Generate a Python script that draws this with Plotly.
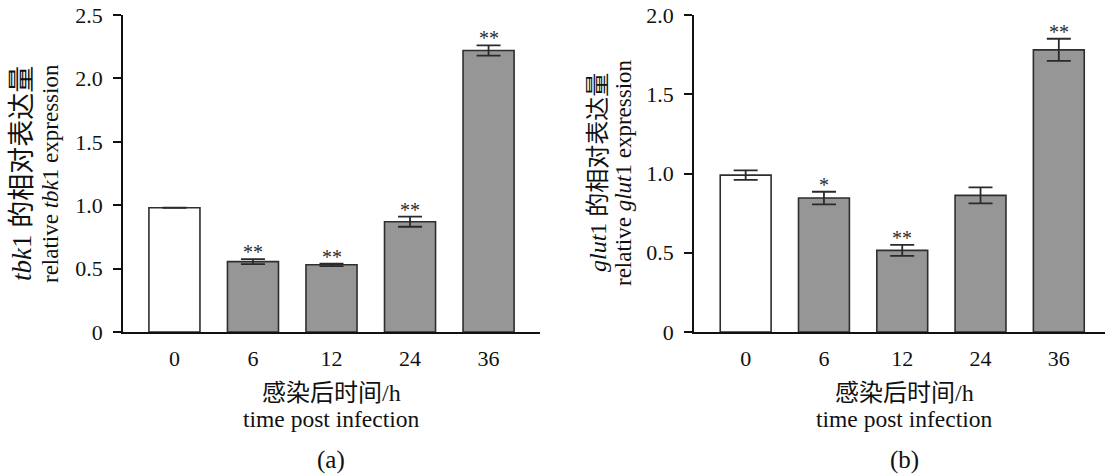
import plotly.graph_objects as go

# ---- data ----
times = ["0", "6", "12", "24", "36"]
tbk1_mean = [0.98, 0.555, 0.53, 0.87, 2.22]
tbk1_err = [0.0, 0.02, 0.01, 0.04, 0.04]
tbk1_sig = ["", "**", "**", "**", "**"]
glut1_mean = [0.99, 0.845, 0.515, 0.862, 1.78]
glut1_err = [0.03, 0.04, 0.035, 0.05, 0.07]
glut1_sig = ["", "*", "**", "", "**"]
tbk1_ticks = [0, 0.5, 1.0, 1.5, 2.0, 2.5]
tbk1_ticktext = ["0", "0.5", "1.0", "1.5", "2.0", "2.5"]
glut1_ticks = [0, 0.5, 1.0, 1.5, 2.0]
glut1_ticktext = ["0", "0.5", "1.0", "1.5", "2.0"]

W, H = 1105, 476
FONT = "Liberation Serif, Times New Roman, Noto Sans CJK SC, serif"
fills = ["#ffffff"] + ["#969696"] * 4
EDGE = "#2e2e2e"

fig = go.Figure()


def add_panel(means, errs, sig, xa, ya):
    fig.add_trace(go.Bar(
        x=times, y=means, xaxis=xa, yaxis=ya, width=0.65,
        marker=dict(color=fills, line=dict(color=EDGE, width=1.6)),
        error_y=dict(type="data", array=errs, visible=True,
                     color="#2a2a2a", thickness=1.8, width=12),
        hoverinfo="skip",
    ))
    for i, (m, e, s) in enumerate(zip(means, errs, sig)):
        if s:
            fig.add_annotation(
                x=i, y=m + e, xref=xa, yref=ya, text=s, showarrow=False,
                yanchor="bottom", yshift=-6,
                font=dict(family=FONT, size=20, color="#2a2a2a"))


add_panel(tbk1_mean, tbk1_err, tbk1_sig, "x", "y")
add_panel(glut1_mean, glut1_err, glut1_sig, "x2", "y2")

ydom = [1 - 332 / H, 1 - 15 / H]
axis_common = dict(showline=True, linecolor="#111", linewidth=1.5,
                   showgrid=False, zeroline=False, automargin=False,
                   tickfont=dict(family=FONT, size=22, color="#111"))

fig.update_layout(
    width=W, height=H, margin=dict(l=0, r=0, t=0, b=0, autoexpand=False),
    paper_bgcolor="white", plot_bgcolor="white", showlegend=False,
    bargap=0.35,
    xaxis=dict(domain=[123 / W, 540 / W], anchor="y", type="category",
               range=[-0.655, 4.655], ticks="", ticklabelstandoff=6,
               **axis_common),
    yaxis=dict(domain=ydom, anchor="x", range=[0, 2.5],
               tickvals=tbk1_ticks, ticktext=tbk1_ticktext,
               ticks="outside", ticklen=8, tickwidth=1.5, tickcolor="#111",
               ticklabelstandoff=6, **axis_common),
    xaxis2=dict(domain=[694 / W, 1.0], anchor="y2", type="category",
                range=[-0.66, 4.59], ticks="", ticklabelstandoff=6,
                **axis_common),
    yaxis2=dict(domain=ydom, anchor="x2", range=[0, 2.0],
                tickvals=glut1_ticks, ticktext=glut1_ticktext,
                ticks="outside", ticklen=8, tickwidth=1.5, tickcolor="#111",
                ticklabelstandoff=6, **axis_common),
)


def txt(text, xpx, ypx, angle=0, size=23):
    fig.add_annotation(x=xpx / W, y=1 - ypx / H, xref="paper", yref="paper",
                       text=text, showarrow=False, textangle=angle,
                       xanchor="center", yanchor="middle",
                       font=dict(family=FONT, size=size, color="#111"))


# y-axis titles
txt("<i>tbk</i>1 的相对表达量", 22, 174, -90, 27)
txt("relative <i>tbk</i>1 expression", 50, 174, -90, 23)
txt("<i>glut</i>1 的相对表达量", 598, 173, -90, 24)
txt("relative <i>glut</i>1 expression", 623, 173, -90, 23)

# x-axis titles
for cx, lab in [(331, "(a)"), (904, "(b)")]:
    txt("感染后时间/h", cx, 393, 0, 24)
    txt("time post infection", cx, 419, 0, 23.5)
    txt(lab, cx, 460, 0, 25)

fig.write_html(
    "out.html",
    config={"displayModeBar": False},
    post_script="document.body.style.margin='0';document.body.style.overflow='hidden';",
)
